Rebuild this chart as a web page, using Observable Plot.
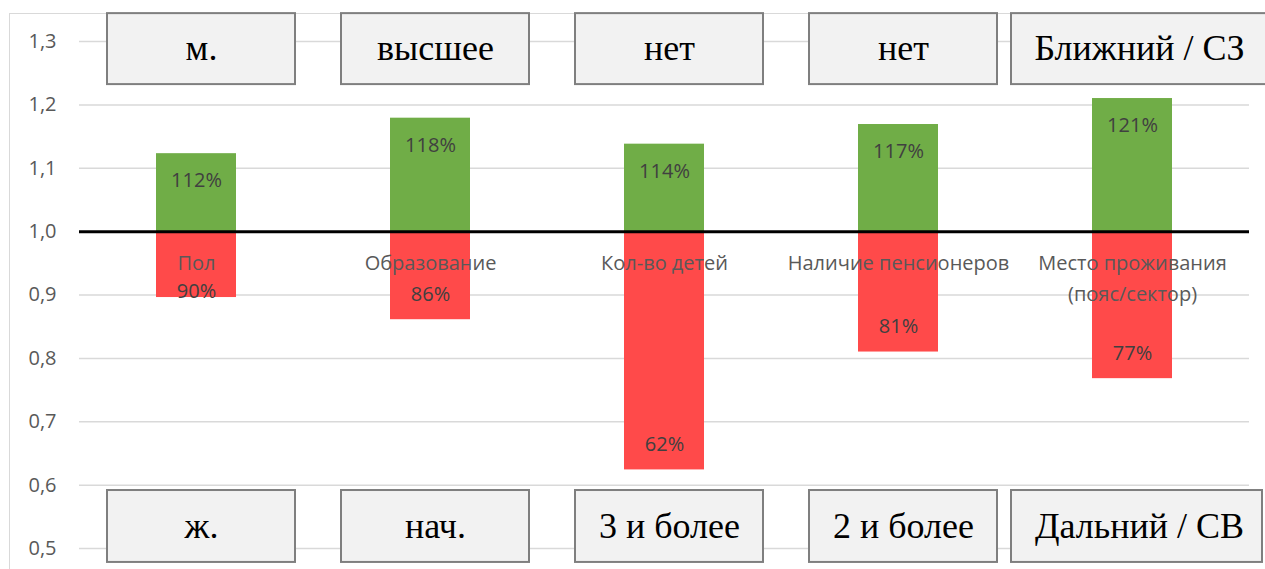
<!DOCTYPE html>
<html><head><meta charset="utf-8">
<script src="https://cdn.jsdelivr.net/npm/d3@7"></script>
<script src="https://cdn.jsdelivr.net/npm/@observablehq/plot@0.6"></script>
<style>
body{margin:0;background:#fff;}
#wrap{position:relative;width:1265px;height:569px;overflow:hidden;}
#border{position:absolute;left:9px;top:13px;width:1300px;height:600px;border:1.5px solid #d9d9d9;box-sizing:border-box;}
#chart{position:absolute;left:0;top:0;}
</style></head><body><div id="wrap"><div id="border"></div><div id="chart"></div></div>
<script>
const categories = ["Пол", "Образование", "Кол-во детей", "Наличие пенсионеров", "Место проживания\n(пояс/сектор)"];
const upValues = [1.123, 1.179, 1.138, 1.169, 1.21];
const downValues = [0.896, 0.861, 0.624, 0.81, 0.768];
const topLabels = ["м.", "высшее", "нет", "нет", "Ближний / СЗ"];
const bottomLabels = ["ж.", "нач.", "3 и более", "2 и более", "Дальний / СВ"];
const yTicks = [0.5, 0.6, 0.7, 0.8, 0.9, 1.0, 1.1, 1.2, 1.3];

const rows = categories.map((c, i) => ({cat: c, up: upValues[i], down: downValues[i], top: topLabels[i], bottom: bottomLabels[i], idx: i}));
const fmt = v => Math.round(v * 100) + "%";
const tf = d => d.toFixed(1).replace(".", ",");

const boxOpts = {fill: "#f2f2f2", stroke: "#7f7f7f", strokeWidth: 2};
const topBox = [1.344, 1.232];
const botBox = [0.5915, 0.478];
const small = (d) => d.idx < 4;
const wide = (d) => d.idx === 4;
const serif = "'Liberation Serif', 'Times New Roman', serif";

const chart = Plot.plot({
  width: 1265, height: 569,
  marginLeft: 79, marginRight: 16, marginTop: 41, marginBottom: 21,
  style: {fontFamily: "'Open Sans', sans-serif", background: "transparent", overflow: "visible"},
  x: {type: "band", domain: categories, padding: 0, axis: null},
  y: {domain: [0.5, 1.3], axis: null},
  marks: [
    Plot.gridY(yTicks, {stroke: "#d9d9d9", strokeOpacity: 1, strokeWidth: 1.5}),
    Plot.axisY(yTicks, {tickSize: 0, tickPadding: 23, fontSize: 20, fill: "#595959", tickFormat: tf}),
    Plot.barY(rows, {x: "cat", y1: 1, y2: "up", fill: "#70ad47", insetLeft: 77, insetRight: 77}),
    Plot.barY(rows, {x: "cat", y1: 1, y2: "down", fill: "#ff4a4a", insetLeft: 77, insetRight: 77}),
    Plot.ruleY([1], {stroke: "black", strokeWidth: 3}),
    Plot.text(rows, {x: "cat", y: d => d.up - 0.043, text: d => fmt(d.up), fontSize: 20, fill: "#404040"}),
    Plot.text(rows, {x: "cat", y: d => Math.min(d.down + 0.04, 0.906), text: d => fmt(d.down), fontSize: 20, fill: "#404040"}),
    Plot.text(rows, {x: "cat", y: 1, text: "cat", lineAnchor: "top", dy: 16, lineHeight: 1.55, fontSize: 20, fill: "#595959"}),
    Plot.barY(rows, {filter: small, x: "cat", y1: topBox[0], y2: topBox[1], insetLeft: 28, insetRight: 18, ...boxOpts}),
    Plot.barY(rows, {filter: wide, x: "cat", y1: topBox[0], y2: topBox[1], insetLeft: -4, insetRight: -30, ...boxOpts}),
    Plot.barY(rows, {filter: small, x: "cat", y1: botBox[0], y2: botBox[1], insetLeft: 28, insetRight: 18, ...boxOpts}),
    Plot.barY(rows, {filter: wide, x: "cat", y1: botBox[0], y2: botBox[1], insetLeft: -4, insetRight: -13, ...boxOpts}),
    Plot.text(rows, {filter: small, x: "cat", y: (topBox[0] + topBox[1]) / 2, text: "top", dx: 5, dy: -1, fontSize: 36, fontFamily: serif, fill: "black"}),
    Plot.text(rows, {filter: wide, x: "cat", y: (topBox[0] + topBox[1]) / 2, text: "top", dx: 7, dy: -1, fontSize: 36, fontFamily: serif, fill: "black"}),
    Plot.text(rows, {filter: small, x: "cat", y: (botBox[0] + botBox[1]) / 2, text: "bottom", dx: 5, fontSize: 36, fontFamily: serif, fill: "black"}),
    Plot.text(rows, {filter: wide, x: "cat", y: (botBox[0] + botBox[1]) / 2, text: "bottom", dx: 7, fontSize: 36, fontFamily: serif, fill: "black"})
  ]
});
document.getElementById("chart").appendChild(chart);
</script>
</body></html>
